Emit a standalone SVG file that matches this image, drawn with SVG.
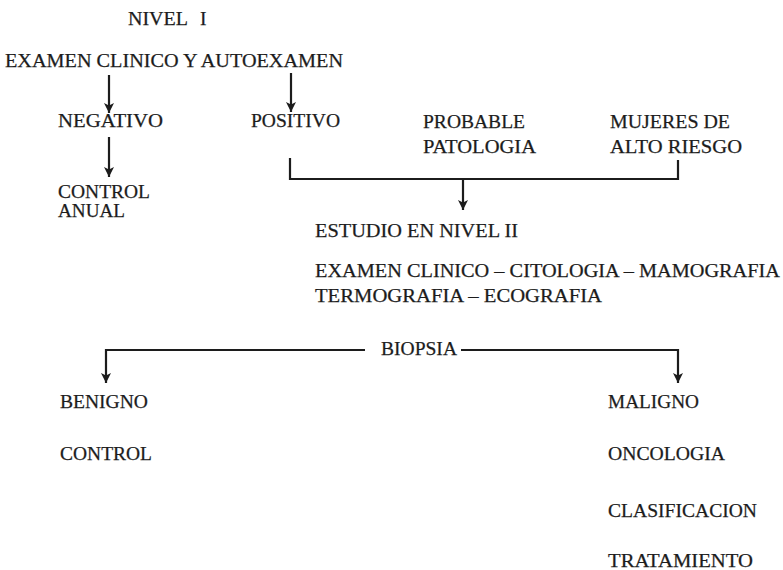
<svg xmlns="http://www.w3.org/2000/svg" width="783" height="570" viewBox="0 0 783 570">
<style>
text{font-family:"Liberation Serif","Times New Roman",serif;font-size:19.5px;fill:#1c1c1c;stroke:#1c1c1c;stroke-width:0.25}
.c{stroke:#1c1c1c;stroke-width:2.2;fill:none}
</style>
<defs>
<marker id="ah" viewBox="0 0 10 10" markerWidth="13" markerHeight="10" refX="10" refY="5" orient="auto" markerUnits="userSpaceOnUse">
<path d="M0,0 L10,5 L0,10 L2.5,5 z" fill="#1c1c1c"/>
</marker>
</defs>
<rect width="783" height="570" fill="#fff"/>
<g id="connectors">
<path class="c" d="M109,75 V113" marker-end="url(#ah)"/>
<path class="c" d="M109,137 V177" marker-end="url(#ah)"/>
<path class="c" d="M291,73 V112" marker-end="url(#ah)"/>
<path class="c" d="M290,158 V179 H678 V160"/>
<path class="c" d="M463,179 V210" marker-end="url(#ah)"/>
<path class="c" d="M365,350 H106 V383" marker-end="url(#ah)"/>
<path class="c" d="M461,350 H678 V383" marker-end="url(#ah)"/>
</g>
<g id="nivel1"><text x="128" y="25"><tspan textLength="60" lengthAdjust="spacingAndGlyphs">NIVEL</tspan><tspan x="200">I</tspan></text></g>
<g id="examen"><text x="5" y="67" textLength="338" lengthAdjust="spacingAndGlyphs">EXAMEN CLINICO Y AUTOEXAMEN</text></g>
<g id="negativo"><text x="58" y="127" textLength="105" lengthAdjust="spacingAndGlyphs">NEGATIVO</text></g>
<g id="positivo"><text x="251" y="127" textLength="89" lengthAdjust="spacingAndGlyphs">POSITIVO</text></g>
<g id="probable"><text x="423" y="128" textLength="102" lengthAdjust="spacingAndGlyphs">PROBABLE</text><text x="423" y="153" textLength="113" lengthAdjust="spacingAndGlyphs">PATOLOGIA</text></g>
<g id="mujeres"><text x="610" y="128" textLength="120" lengthAdjust="spacingAndGlyphs">MUJERES DE</text><text x="610" y="153" textLength="132" lengthAdjust="spacingAndGlyphs">ALTO RIESGO</text></g>
<g id="control-anual"><text x="58" y="198" textLength="92" lengthAdjust="spacingAndGlyphs">CONTROL</text><text x="58" y="217" textLength="67" lengthAdjust="spacingAndGlyphs">ANUAL</text></g>
<g id="estudio"><text x="315" y="237" textLength="203" lengthAdjust="spacingAndGlyphs">ESTUDIO EN NIVEL II</text></g>
<g id="examenes"><text x="315" y="277" textLength="465" lengthAdjust="spacingAndGlyphs">EXAMEN CLINICO – CITOLOGIA – MAMOGRAFIA</text><text x="315" y="302" textLength="287" lengthAdjust="spacingAndGlyphs">TERMOGRAFIA – ECOGRAFIA</text></g>
<g id="biopsia"><text x="381" y="355" textLength="76" lengthAdjust="spacingAndGlyphs">BIOPSIA</text></g>
<g id="benigno"><text x="60" y="408" textLength="88" lengthAdjust="spacingAndGlyphs">BENIGNO</text><text x="60" y="460" textLength="92" lengthAdjust="spacingAndGlyphs">CONTROL</text></g>
<g id="maligno"><text x="608" y="408" textLength="91" lengthAdjust="spacingAndGlyphs">MALIGNO</text><text x="608" y="460" textLength="117" lengthAdjust="spacingAndGlyphs">ONCOLOGIA</text><text x="608" y="517" textLength="149" lengthAdjust="spacingAndGlyphs">CLASIFICACION</text><text x="608" y="567" textLength="145" lengthAdjust="spacingAndGlyphs">TRATAMIENTO</text></g>
</svg>
